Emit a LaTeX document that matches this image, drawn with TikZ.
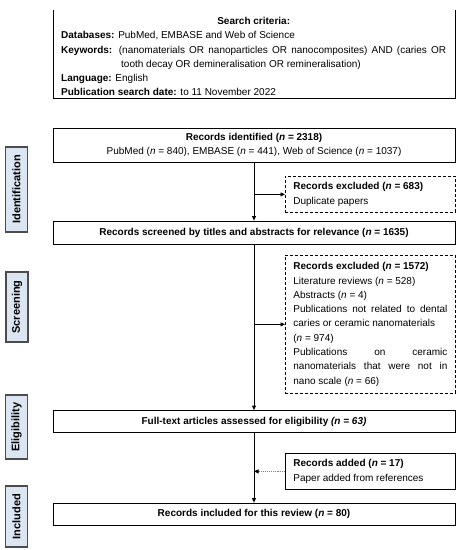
\documentclass[tikz,border=0pt]{standalone}
\usepackage{fontspec}
\setmainfont{Liberation Sans}
\usepackage{tikz}
\usetikzlibrary{arrows.meta,shadows}
\setlength{\parindent}{0pt}
\tolerance=9999
\hbadness=10000
\definecolor{stageblue}{RGB}{220,230,242}
\newcommand{\nn}{\textit{n}}
\newcommand{\boxfont}{\fontsize{10}{14.3}\selectfont}

\begin{document}
\begin{tikzpicture}[x=1pt, y=-1pt,
	every node/.style={font=\boxfont, inner sep=0pt},
	mainbox/.style={draw, line width=0.8pt, fill=white, minimum width=402pt, align=center,
		drop shadow={shadow xshift=0.7pt, shadow yshift=-0.7pt, fill=black!45}},
	sidebox/.style={draw, line width=0.8pt, fill=white, anchor=north west, text width=154pt,
		inner xsep=8pt, minimum height=36pt, align=justify, execute at begin node=\boxfont},
	dashedbox/.style={sidebox, densely dashed},
	stagebox/.style={draw=black!70, line width=1.3pt, fill=stageblue, rotate=90, minimum height=22pt,
		font=\bfseries\fontsize{11}{13}\selectfont},
	flow/.style={line width=0.9pt, -{Triangle[length=4.5pt, width=4pt]}}]

		\useasboundingbox[fill=white] (0,0) rectangle (463,550);

		% search criteria (box open at the top)
		\draw[black!45, line width=0.8pt] (53.7,98.7) -- (455.7,98.7) -- (455.7,10.7);
		\draw[line width=0.8pt] (53,10) -- (53,98) -- (455,98) -- (455,10);
		\node (crit) [anchor=north west, text width=385pt, align=justify, execute at begin node=\boxfont] at (61,17) {%
			{\centering\textbf{Search criteria:}\par}
			\textbf{Databases:} PubMed, EMBASE and Web of Science\par
			\hangindent=60pt\hangafter=1 \textbf{Keywords:} (nanomaterials OR nanoparticles OR nanocomposites) AND (caries OR tooth decay OR demineralisation OR remineralisation)\par
			\textbf{Language:} English\par
			\textbf{Publication search date:} to 11 November 2022};

		% main flow
		\path (254,145) node[mainbox, minimum height=34pt] (ident) {\textbf{Records identified (\nn{} = 2318)}\\PubMed (\nn{} = 840), EMBASE (\nn{} = 441), Web of Science (\nn{} = 1037)}
		(254,232.5) node[mainbox, minimum height=23pt] (screen) {\textbf{Records screened by titles and abstracts for relevance (\nn{} = 1635)}}
		(254,421.5) node[mainbox, minimum height=22pt] (full) {\textbf{Full-text articles assessed for eligibility \textit{(n = 63)}}}
		(254,514) node[mainbox, minimum height=22pt] (incl) {\textbf{Records included for this review (\nn{} = 80)}};

		% side boxes
		\path (285,176) node[dashedbox] (dup) {\textbf{Records excluded (\nn{} = 683)}\par Duplicate papers}
		(285,255) node[dashedbox, minimum height=138pt] (excl) {\textbf{Records excluded (\nn{} = 1572)}\par
			Literature reviews (\nn{} = 528)\par
			Abstracts (\nn{} = 4)\par
			Publications not related to dental\linebreak caries or ceramic nanomaterials\newline (\nn{} = 974)\par
			Publications on ceramic\linebreak nanomaterials that were not in\linebreak nano scale (\nn{} = 66)}
		(285,453) node[sidebox] (added) {\textbf{Records added (\nn{} = 17)}\par Paper added from references};

		% stages
		\path (16.5,189.5) node[stagebox, minimum width=85pt] (idstage) {Identification}
		(17,307) node[stagebox, minimum width=70pt] (scrstage) {Screening}
		(16.5,427) node[stagebox, minimum width=64pt] (eligstage) {Eligibility}
		(16.5,516.5) node[stagebox, minimum width=61pt] (inclstage) {Included};

		\draw[flow] (ident) -- (screen);
		\draw[flow] (screen) -- (full);
		\draw[flow] (full) -- (incl);
		\draw[flow] (ident.south |- dup.west) -- (dup.west);
		\draw[flow] (screen.south |- excl.west) -- (excl.west);
		\draw[flow, black!50, densely dotted, -{Triangle[length=4.5pt, width=4pt, black]}] (added.west) -- (added.west -| full.south);
	\end{tikzpicture}
\end{document}
